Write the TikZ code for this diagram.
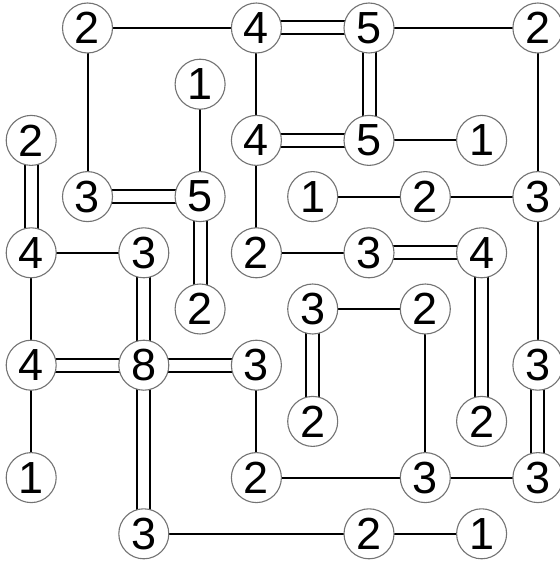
\documentclass[tikz,border=0pt]{standalone}
\usepackage{fontspec}
\setmainfont{Liberation Sans}
\usetikzlibrary{backgrounds}
\begin{document}
\begin{tikzpicture}[x=1pt,y=-1pt,
  isl/.style={circle, draw=black!55, line width=1.1pt, fill=white, minimum size=50pt, inner sep=0pt, font=\fontsize{45}{45}\selectfont},
  one/.style={line width=2pt, black},
  two/.style={line width=2pt, black, double=white, double distance=11pt}]
\useasboundingbox (0,0) rectangle (559,564);
\foreach \nm/\r/\c/\v in {a/0/1/2, b/0/4/4, c/0/6/5, d/0/9/2, e/1/3/1,
  f/2/0/2, g/2/4/4, h/2/6/5, i/2/8/1,
  j/3/1/3, k/3/3/5, l/3/5/1, m/3/7/2, n/3/9/3,
  o/4/0/4, p/4/2/3, q/4/4/2, r/4/6/3, s/4/8/4,
  t/5/3/2, u/5/5/3, v/5/7/2,
  w/6/0/4, x/6/2/8, y/6/4/3, z/6/9/3,
  A/7/5/2, B/7/8/2,
  C/8/0/1, D/8/4/2, E/8/7/3, F/8/9/3,
  G/9/2/3, H/9/6/2, I/9/8/1}
  \node[isl] (n\nm) at ({31.2+56.3*\c},{28+56.2*\r}) {\v};
\begin{pgfonlayer}{background}
\foreach \p/\q in {a/b, c/d, a/j, b/g, d/n, e/k, h/i, g/q, l/m, m/n, n/z, o/p, o/w, q/r, u/v, v/E, y/D, w/C, D/E, E/F, G/H, H/I}
  \draw[one] (n\p.center) -- (n\q.center);
\foreach \p/\q in {b/c, c/h, f/o, g/h, j/k, k/t, p/x, r/s, s/B, u/A, w/x, x/y, x/G, z/F}
  \draw[two] (n\p.center) -- (n\q.center);
\end{pgfonlayer}
\end{tikzpicture}
\end{document}
